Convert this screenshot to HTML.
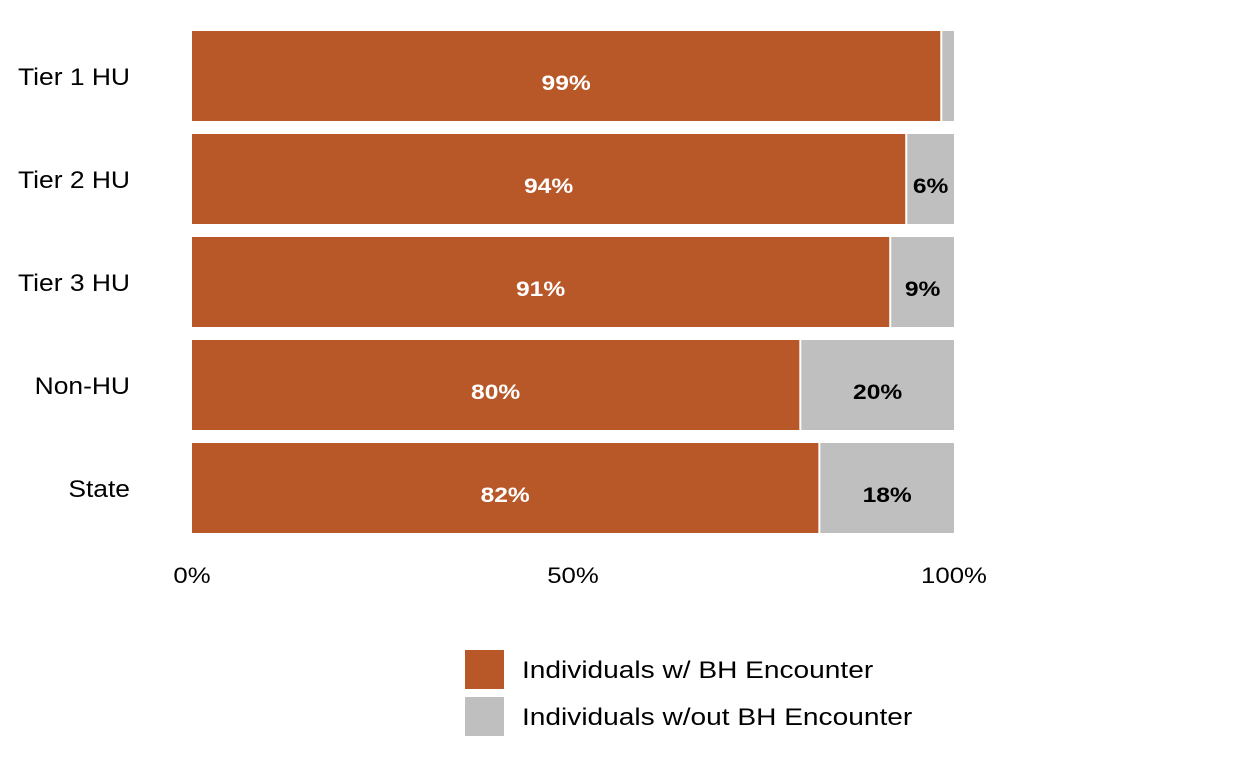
<!DOCTYPE html>
<html><head><meta charset="utf-8">
<style>
body{margin:0;background:#fff;width:1248px;height:768px;overflow:hidden;font-family:"Liberation Sans",sans-serif}
</style></head>
<body>
<svg id="chart" width="1248" height="768" xmlns="http://www.w3.org/2000/svg"></svg>
<script>
const categories = ["Tier 1 HU","Tier 2 HU","Tier 3 HU","Non-HU","State"];
const withBH = [98.2, 93.6, 91.5, 79.7, 82.2];
const withBHLabels = ["99%","94%","91%","80%","82%"];
const withoutLabels = ["","6%","9%","20%","18%"];
const ticks = [0, 50, 100];
const tickLabels = ["0%","50%","100%"];

const svg = document.getElementById('chart');
const NS = "http://www.w3.org/2000/svg";
const x0 = 192, x1 = 954;
const xs = v => x0 + (x1 - x0) * v / 100;
const bandTop = i => 31 + i * 103;
const bandH = 90;
function mk(tag, attrs, text, stretch){
  const e = document.createElementNS(NS, tag);
  for (const k in attrs) e.setAttribute(k, attrs[k]);
  if (text !== undefined) e.textContent = text;
  svg.appendChild(e);
  if (tag === 'text') {
    const w = e.getComputedTextLength();
    if (w > 0) {
      e.setAttribute('textLength', w * (stretch || 1.17));
      e.setAttribute('lengthAdjust', 'spacingAndGlyphs');
    }
  }
  return e;
}
categories.forEach((c, i) => {
  const y = bandTop(i);
  const xe = xs(withBH[i]);
  const r1 = mk('rect', {x: x0, y: y, width: xe - x0, height: bandH, fill: '#b85728'});
  
  
  const r2 = mk('rect', {x: xe + 2, y: y, width: Math.max(0, x1 - xe - 2), height: bandH, fill: '#bfbfbf'});
  
  
  const t1 = mk('text', {x: (x0 + xe) / 2, y: y + 59, 'text-anchor': 'middle', 'font-size': 21, 'font-weight': 'bold', fill: '#fff'}, withBHLabels[i]);
  
  
  if (withoutLabels[i] && (100 - withBH[i]) > 3) {
    const t2 = mk('text', {x: (xe + 2 + x1) / 2, y: y + 59, 'text-anchor': 'middle', 'font-size': 21, 'font-weight': 'bold', fill: '#000'}, withoutLabels[i]);
    
    
  }
  const cl = mk('text', {x: 130, y: y + 54, 'text-anchor': 'end', 'font-size': 24, fill: '#000'}, c, 1.1);
  
  
});
ticks.forEach((t, i) => {
  const tl = mk('text', {x: xs(t), y: 583, 'text-anchor': 'middle', 'font-size': 22, fill: '#000'}, tickLabels[i]);
  
  
});
const l1 = mk('rect', {x: 465, y: 650, width: 39, height: 39, fill: '#b85728'});


const lt1 = mk('text', {x: 522, y: 678, 'font-size': 24, fill: '#000'}, 'Individuals w/ BH Encounter');


const l2 = mk('rect', {x: 465, y: 697, width: 39, height: 39, fill: '#bfbfbf'});


const lt2 = mk('text', {x: 522, y: 725, 'font-size': 24, fill: '#000'}, 'Individuals w/out BH Encounter');


</script>
</body></html>
